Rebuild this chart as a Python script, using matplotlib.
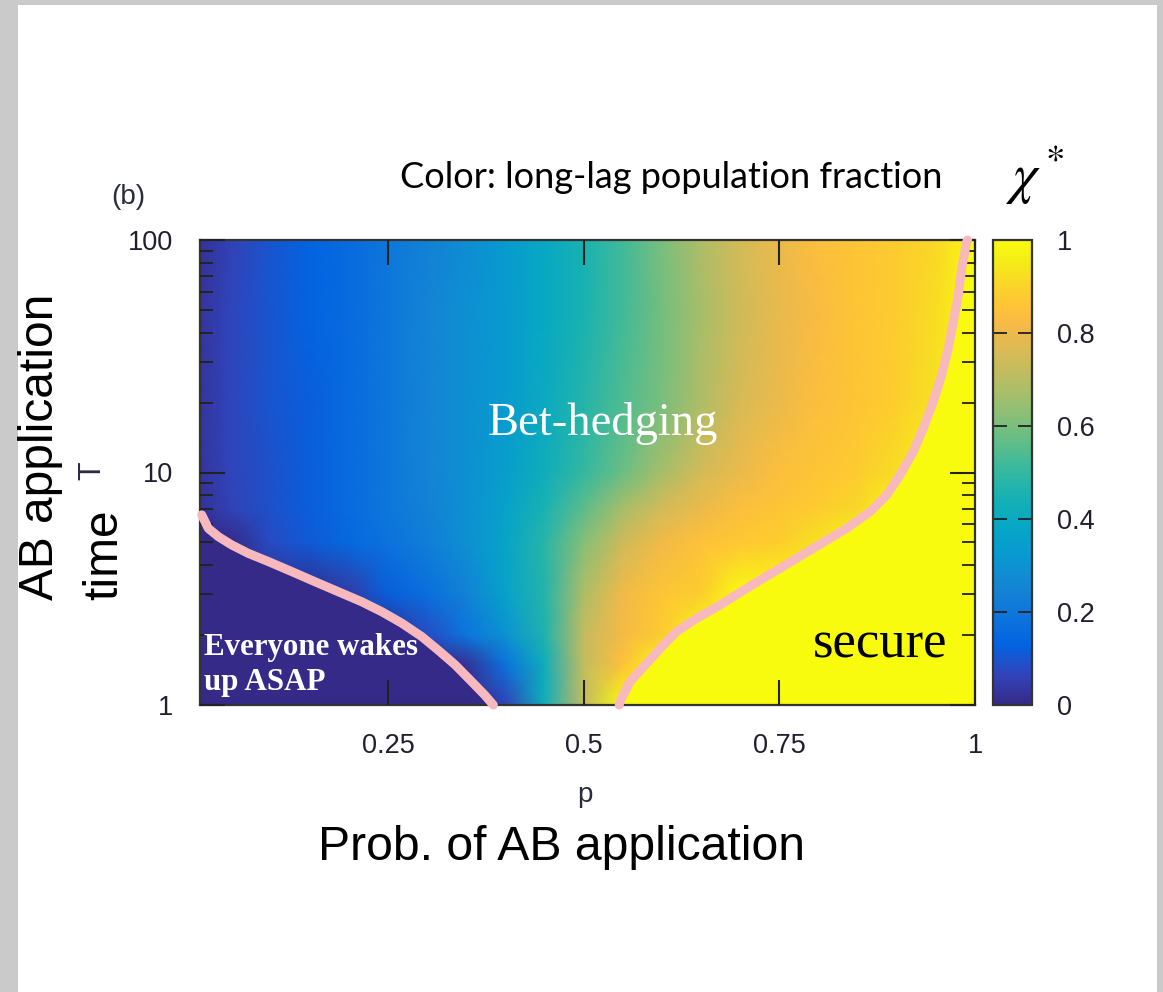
import numpy as np
import matplotlib
matplotlib.use("Agg")
import matplotlib.pyplot as plt
from matplotlib.colors import LinearSegmentedColormap
from matplotlib.patches import Rectangle

# grid of the long-lag fraction x* over (p, T)
p_grid = [0.01, 0.05, 0.1, 0.15, 0.2, 0.25, 0.3, 0.35, 0.4, 0.45, 0.5,
          0.55, 0.6, 0.65, 0.7, 0.75, 0.8, 0.85, 0.9, 0.95, 1.0]
T_grid = [1, 1.5, 2, 3, 5, 7, 10, 20, 50, 100]
x_T1 = [0, 0, 0, 0, 0, 0, 0, 0, 0.06, 0.42, 0.72, 1, 1, 1, 1, 1, 1, 1, 1, 1, 1]
x_T1_5 = [0, 0, 0, 0, 0, 0, 0, 0.02, 0.18, 0.42, 0.72, 0.85, 1, 1, 1, 1, 1, 1, 1, 1, 1]
x_T2 = [0, 0, 0, 0, 0, 0, 0.08, 0.19, 0.3, 0.46, 0.72, 0.82, 0.88, 1, 1, 1, 1, 1, 1, 1, 1]
x_T3 = [0, 0, 0, 0, 0.04, 0.12, 0.17, 0.24, 0.36, 0.47, 0.68, 0.81, 0.86, 0.89, 1, 1, 1, 1, 1, 1, 1]
x_T5 = [0, 0, 0.08, 0.11, 0.15, 0.18, 0.23, 0.29, 0.37, 0.48, 0.62, 0.74, 0.81, 0.85, 0.87, 0.89, 0.93, 1, 1, 1, 1]
x_T7 = [0.02, 0.06, 0.09, 0.12, 0.16, 0.2, 0.24, 0.29, 0.36, 0.45, 0.56, 0.67, 0.75, 0.8, 0.84, 0.86, 0.88, 0.91, 1, 1, 1]
x_T10 = [0.03, 0.07, 0.09, 0.12, 0.16, 0.2, 0.25, 0.29, 0.34, 0.42, 0.5, 0.58, 0.67, 0.75, 0.8, 0.84, 0.86, 0.88, 0.92, 1, 1]
x_T20 = [0.03, 0.07, 0.1, 0.12, 0.16, 0.2, 0.25, 0.29, 0.33, 0.4, 0.47, 0.54, 0.6, 0.68, 0.76, 0.8, 0.84, 0.86, 0.89, 0.93, 1]
x_T50 = [0.03, 0.07, 0.1, 0.13, 0.16, 0.2, 0.25, 0.29, 0.33, 0.39, 0.45, 0.52, 0.59, 0.67, 0.74, 0.79, 0.83, 0.86, 0.88, 0.92, 1]
x_T100 = [0.02, 0.06, 0.1, 0.13, 0.16, 0.2, 0.24, 0.28, 0.33, 0.39, 0.45, 0.52, 0.6, 0.68, 0.75, 0.8, 0.84, 0.86, 0.88, 0.91, 1]

# phase boundaries (x* = 0 below the left one, x* = 1 below the right one)
left_p = [0.0122, 0.0206, 0.0334, 0.0505, 0.0717, 0.0973, 0.1271, 0.1569, 0.1867,
          0.2166, 0.2421, 0.2677, 0.2932, 0.3144, 0.3358, 0.3571, 0.3741, 0.3847]
left_T = [6.57, 5.75, 5.30, 4.88, 4.49, 4.14, 3.75, 3.39, 3.07,
          2.78, 2.52, 2.25, 1.97, 1.72, 1.49, 1.26, 1.10, 1.0]
right_p = [0.5455, 0.5465, 0.5593, 0.5806, 0.6018, 0.6189, 0.6445, 0.6743, 0.7084, 0.7509,
           0.7934, 0.8361, 0.8659, 0.8872, 0.9042, 0.9212, 0.934, 0.9467, 0.9575, 0.9659,
           0.9723, 0.9787, 0.983, 0.9894, 0.9905]
right_T = [1.0, 1.033, 1.26, 1.51, 1.81, 2.07, 2.36, 2.69, 3.18, 3.87,
           4.72, 5.75, 6.78, 8.0, 9.75, 12.29, 15.5, 20.2, 26.3, 34.2,
           44.5, 58.0, 75.5, 98.3, 100]

cbar_ticks = [0, 0.2, 0.4, 0.6, 0.8, 1]
cbar_labels = ["0", "0.2", "0.4", "0.6", "0.8", "1"]

# parula-like colormap
parula_pts = [
    (0, (0.2081, 0.1663, 0.5292)), (4, (0.1959, 0.2645, 0.7279)),
    (8, (0.0117, 0.3875, 0.8820)), (12, (0.0498, 0.4586, 0.8641)),
    (16, (0.0793, 0.5200, 0.8312)), (20, (0.0343, 0.5966, 0.8199)),
    (24, (0.0228, 0.6535, 0.7768)), (28, (0.0843, 0.6928, 0.7062)),
    (32, (0.2178, 0.7250, 0.6193)), (36, (0.3953, 0.7459, 0.5244)),
    (40, (0.5709, 0.7485, 0.4494)), (44, (0.7184, 0.7411, 0.3905)),
    (48, (0.8507, 0.7299, 0.3360)), (52, (0.9739, 0.7314, 0.2666)),
    (54, (0.9990, 0.7653, 0.2164)), (56, (0.9880, 0.8066, 0.1794)),
    (60, (0.9598, 0.9218, 0.0948)), (63, (0.9763, 0.9831, 0.0538)),
]
parula = LinearSegmentedColormap.from_list("parula", [(i / 63, c) for i, c in parula_pts])

W, H = 1163, 992
fig = plt.figure(figsize=(W / 100, H / 100), dpi=100, facecolor="#c9cac9")
fig.add_artist(Rectangle((18 / W, 0), (1157 - 18) / W, 1 - 5 / H, transform=fig.transFigure,
                         facecolor="white", edgecolor="none", zorder=-5))


def fx(x):
    return x / W


def fy(y):
    return 1 - y / H


ax = fig.add_axes([fx(200), fy(705), (975 - 200) / W, (705 - 240) / H])
cax = fig.add_axes([fx(993), fy(705), (1032 - 993) / W, (705 - 240) / H])

Z = np.array([x_T1, x_T1_5, x_T2, x_T3, x_T5, x_T7, x_T10, x_T20, x_T50, x_T100])
ax.set_yscale("log")
ax.set_axisbelow(False)
mesh = ax.pcolormesh(p_grid, T_grid, Z, shading="gouraud", cmap=parula, vmin=0, vmax=1,
                     rasterized=True, zorder=0.5)
ax.fill_betweenx(left_T, 0, left_p, color=parula(0.0), lw=0, zorder=1)
ax.fill_betweenx(right_T, right_p, 1.01, color=parula(1.0), lw=0, zorder=1)
ax.plot(left_p, left_T, color="#f7b9bd", lw=6.5, solid_capstyle="round", zorder=3, clip_on=False)
ax.plot(right_p, right_T, color="#f7b9bd", lw=6.5, solid_capstyle="round", zorder=3, clip_on=False)

ax.set_xlim(0.01, 1.0)
ax.set_ylim(1, 100)
ax.set_xticks([0.25, 0.5, 0.75, 1.0], labels=["0.25", "0.5", "0.75", "1"])
ax.set_yticks([1, 10, 100], labels=["1", "10", "100"])
tick_col = "#1f1f2e"
ax.tick_params(which="major", direction="in", length=18, width=1.5, top=True, right=True,
               labelsize=19.5, labelcolor=tick_col, color="#222222")
ax.tick_params(axis="x", pad=20)
ax.tick_params(axis="y", pad=19)
ax.tick_params(which="minor", direction="in", length=9.5, width=1.3, left=True, right=True,
               color="#222222")
for s in ax.spines.values():
    s.set_linewidth(1.6)
    s.set_color("#333333")
for t in ax.get_xticklabels() + ax.get_yticklabels():
    t.set_fontfamily("Liberation Sans")

cb = fig.colorbar(mesh, cax=cax, ticks=cbar_ticks)
cb.ax.set_yticklabels(cbar_labels)
cb.ax.tick_params(direction="in", length=10, width=1.3, left=True, right=True,
                  labelsize=19.5, labelcolor=tick_col, color="#222222", pad=18)
cb.outline.set_linewidth(1.6)
cb.outline.set_edgecolor("#333333")
for t in cb.ax.get_yticklabels():
    t.set_fontfamily("Liberation Sans")

# labels from the original gnuplot panel
fig.text(fx(111), fy(197), "(b)", fontsize=20, family="Liberation Sans", color="#2a2a40", va="center")
fig.text(fx(92), fy(471), "T", fontsize=22, family="Liberation Sans", color="#2a2a40",
         rotation=90, ha="center", va="center")
fig.text(fx(585), fy(795), "p", fontsize=20, family="Liberation Sans", color="#2a2a40",
         ha="center", va="center")

# slide annotations
fig.text(fx(400), fy(188), "Color: long-lag population fraction", fontsize=26, family="Lato",
         color="black", va="baseline")
fig.text(fx(1005), fy(193), r"$\chi^*$", fontsize=40, math_fontfamily="stix", color="black",
         va="baseline")
fig.text(fx(53), fy(600), "AB application", fontsize=34.5, family="Liberation Sans", rotation=90,
         rotation_mode="anchor", ha="left", va="baseline")
fig.text(fx(117), fy(600), "time", fontsize=34.5, family="Liberation Sans", rotation=90,
         rotation_mode="anchor", ha="left", va="baseline")
fig.text(fx(561), fy(847), "Prob. of AB application", fontsize=34.7, family="Liberation Sans",
         ha="center", va="center")
fig.text(fx(488), fy(435), "Bet-hedging", fontsize=33.5, family="Liberation Serif", color="white",
         va="baseline", zorder=5)
fig.text(fx(204), fy(655), "Everyone wakes", fontsize=22.3, family="Liberation Serif",
         weight="bold", color="white", va="baseline", zorder=5)
fig.text(fx(204), fy(690), "up ASAP", fontsize=22.3, family="Liberation Serif",
         weight="bold", color="white", va="baseline", zorder=5)
fig.text(fx(813), fy(658), "secure", fontsize=38, family="Liberation Serif", color="black",
         va="baseline", zorder=5)

fig.savefig("out.png", dpi=100, facecolor=fig.get_facecolor())
